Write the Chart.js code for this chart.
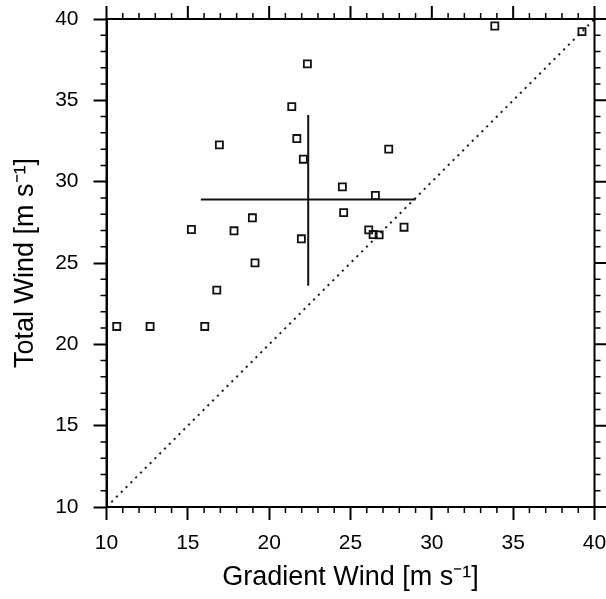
<!DOCTYPE html>
<html>
<head>
<meta charset="utf-8">
<script src="https://cdn.jsdelivr.net/npm/chart.js@4/dist/chart.umd.min.js"></script>
<style>
html,body{margin:0;padding:0;background:#fff;}
#wrap{width:606px;height:599px;}
</style>
</head>
<body>
<div id="wrap"><canvas id="c" width="606" height="599"></canvas></div>
<script>
// Gradient wind (x) and total wind (y), m/s, one pair per case
const gradientWind = [22.35, 21.39, 21.70, 16.94, 22.10, 24.50, 33.87, 39.23, 27.35, 26.53, 24.58, 18.97, 15.22, 17.84, 21.98, 19.13, 16.78, 10.63, 12.68, 16.04, 26.12, 26.39, 26.76, 28.29];
const totalWind    = [37.24, 34.61, 32.65, 32.26, 31.38, 29.68, 39.57, 39.22, 32.00, 29.15, 28.10, 27.78, 27.06, 26.98, 26.49, 25.01, 23.33, 21.10, 21.10, 21.10, 27.04, 26.75, 26.73, 27.20];
// mean cross (centre and extents)
const crossCentre = [22.4, 28.9];
const crossXRange = [15.8, 29.0];
const crossYRange = [23.6, 34.1];
// 1:1 reference line
const oneToOne = [10, 40];
const axisRange = [10, 40];
const majorStep = 5;
const minorStep = 1;

const scatterPts = gradientWind.map((g, i) => ({x: g, y: totalWind[i]}));
const hLine = crossXRange.map(x => ({x: x, y: crossCentre[1]}));
const vLine = crossYRange.map(y => ({x: crossCentre[0], y: y}));
const diag = oneToOne.map(v => ({x: v, y: v}));

const FONT = 'Liberation Sans, Arial, Helvetica, sans-serif';

const boxTicks = {
  id: 'boxTicks',
  afterDraw(chart) {
    const ctx = chart.ctx;
    const xs = chart.scales.x, ys = chart.scales.y;
    const a = chart.chartArea;
    ctx.save();
    ctx.strokeStyle = '#000';
    ctx.lineCap = 'butt';
    ctx.lineWidth = 2;
    ctx.strokeRect(a.left, a.top, a.right - a.left, a.bottom - a.top);
    const majLen = 13, minLen = 6;
    for (let v = axisRange[0]; v <= axisRange[1] + 1e-9; v += minorStep) {
      const isMajor = Math.abs(v / majorStep - Math.round(v / majorStep)) < 1e-9;
      const len = isMajor ? majLen : minLen;
      ctx.lineWidth = isMajor ? 2 : 1.5;
      const px = xs.getPixelForValue(v);
      const py = ys.getPixelForValue(v);
      ctx.beginPath();
      ctx.moveTo(px, a.top); ctx.lineTo(px, a.top - len);
      ctx.moveTo(a.right, py); ctx.lineTo(a.right + len, py);
      if (!isMajor) {
        ctx.moveTo(px, a.bottom); ctx.lineTo(px, a.bottom + len);
        ctx.moveTo(a.left, py); ctx.lineTo(a.left - len, py);
      }
      ctx.stroke();
    }
    ctx.restore();
  }
};

new Chart(document.getElementById('c'), {
  type: 'scatter',
  data: {
    datasets: [
      {
        label: 'cases',
        data: scatterPts,
        pointStyle: 'rect',
        pointRadius: 5,
        pointBorderWidth: 1.8,
        pointBorderColor: '#111',
        pointBackgroundColor: 'rgba(0,0,0,0)',
        showLine: false,
        clip: false
      },
      {
        label: 'mean x',
        data: hLine,
        showLine: true,
        borderColor: '#111',
        borderWidth: 2,
        pointRadius: 0
      },
      {
        label: 'mean y',
        data: vLine,
        showLine: true,
        borderColor: '#111',
        borderWidth: 2,
        pointRadius: 0
      },
      {
        label: '1:1',
        data: diag,
        showLine: true,
        borderColor: '#222',
        borderWidth: 2,
        borderDash: [2.2, 4.6],
        pointRadius: 0
      }
    ]
  },
  options: {
    responsive: false,
    animation: false,
    devicePixelRatio: 1,
    layout: { padding: { top: 19, right: 11.5, left: 0, bottom: 0 } },
    plugins: { legend: { display: false }, tooltip: { enabled: false } },
    scales: {
      x: {
        type: 'linear',
        min: axisRange[0], max: axisRange[1],
        afterFit(s) { s.height = 92; s.paddingLeft = 0; s.paddingRight = 0; },
        ticks: { stepSize: majorStep, color: '#000', padding: 11, font: { family: FONT, size: 21 } },
        grid: { drawOnChartArea: false, drawTicks: true, tickLength: 13, tickWidth: 2, tickColor: '#000' },
        border: { display: true, color: '#000', width: 2 },
        title: { display: true, text: 'Gradient Wind [m s\u207B\u00B9]', color: '#000', padding: { top: 0, bottom: 5 }, font: { family: FONT, size: 27 } }
      },
      y: {
        type: 'linear',
        min: axisRange[0], max: axisRange[1],
        afterFit(s) { s.width = 106.5; s.paddingTop = 0; s.paddingBottom = 0; },
        ticks: { stepSize: majorStep, color: '#000', padding: 15, font: { family: FONT, size: 21 } },
        grid: { drawOnChartArea: false, drawTicks: true, tickLength: 13, tickWidth: 2, tickColor: '#000' },
        border: { display: true, color: '#000', width: 2 },
        title: { display: true, text: 'Total Wind [m s\u207B\u00B9]', color: '#000', padding: { top: 9, bottom: 0 }, font: { family: FONT, size: 27 } }
      }
    }
  },
  plugins: [boxTicks]
});
</script>
</body>
</html>
